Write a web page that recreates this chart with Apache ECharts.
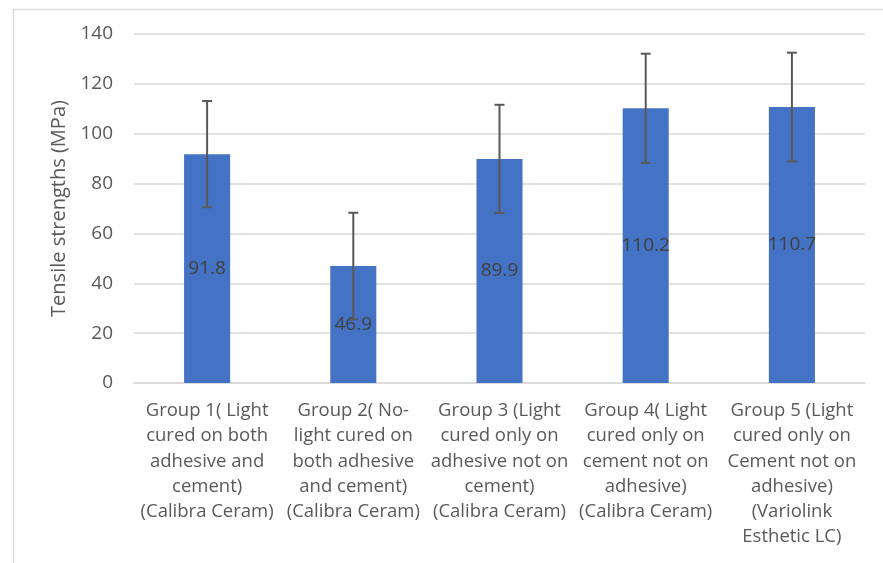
<!DOCTYPE html>
<html>
<head>
<meta charset="utf-8">
<script src="https://cdn.jsdelivr.net/npm/echarts@6/dist/echarts.min.js"></script>
<style>html,body{margin:0;padding:0;background:#fff}#c{width:883px;height:563px}</style>
</head>
<body>
<div id="c"></div>
<script>
var categories = [
  "Group 1( Light\ncured on both\nadhesive and\ncement)\n(Calibra Ceram)",
  "Group 2( No-\nlight cured on\nboth adhesive\nand cement)\n(Calibra Ceram)",
  "Group 3 (Light\ncured only on\nadhesive not on\ncement)\n(Calibra Ceram)",
  "Group 4( Light\ncured only on\ncement not on\nadhesive)\n(Calibra Ceram)",
  "Group 5 (Light\ncured only on\nCement not on\nadhesive)\n(Variolink\nEsthetic LC)"
];
var means = [91.8, 46.9, 89.9, 110.2, 110.7];
var sds = [21.3, 21.4, 21.7, 21.9, 21.8];
var yTicks = [0, 20, 40, 60, 80, 100, 120, 140];

var FONT = '"Open Sans", sans-serif';
var chart = echarts.init(document.getElementById('c'));
var errData = means.map(function (m, i) { return [i, m - sds[i], m + sds[i]]; });

chart.setOption({
  animation: false,
  graphic: [{
    type: 'rect', shape: { x: 13.5, y: 9.5, width: 900, height: 600 },
    style: { fill: 'none', stroke: '#d9d9d9', lineWidth: 1.5 }, z: -10
  }],
  grid: { left: 134, right: 18, top: 34, bottom: 180 },
  xAxis: {
    type: 'category', data: categories,
    axisLine: { lineStyle: { color: '#d9d9d9', width: 1.5 } },
    axisTick: { show: false },
    axisLabel: { color: '#595959', fontFamily: FONT, fontSize: 18.5, lineHeight: 25.3, margin: 15, interval: 0 }
  },
  yAxis: {
    type: 'value', min: yTicks[0], max: yTicks[yTicks.length - 1], interval: 20,
    name: 'Tensile strengths (MPa)', nameLocation: 'middle', nameGap: 64,
    nameTextStyle: { color: '#595959', fontFamily: FONT, fontSize: 20 },
    axisLine: { show: false }, axisTick: { show: false },
    axisLabel: { color: '#595959', fontFamily: FONT, fontSize: 19, margin: 21 },
    splitLine: { lineStyle: { color: '#d9d9d9', width: 1.5 } }
  },
  series: [{
    type: 'bar', data: means, barWidth: '31.5%',
    itemStyle: { color: '#4472c4' },
    label: { show: true, position: 'inside', color: '#404040', fontFamily: FONT, fontSize: 19 }
  }, {
    type: 'custom', data: errData, z: 10,
    renderItem: function (params, api) {
      var x = api.value(0);
      var lo = api.coord([x, api.value(1)]);
      var hi = api.coord([x, api.value(2)]);
      var hw = 5;
      var st = { stroke: '#595959', lineWidth: 2 };
      return { type: 'group', children: [
        { type: 'line', shape: { x1: lo[0], y1: lo[1], x2: hi[0], y2: hi[1] }, style: st },
        { type: 'line', shape: { x1: lo[0] - hw, y1: lo[1], x2: lo[0] + hw, y2: lo[1] }, style: st },
        { type: 'line', shape: { x1: hi[0] - hw, y1: hi[1], x2: hi[0] + hw, y2: hi[1] }, style: st }
      ]};
    }
  }]
});
</script>
</body>
</html>
